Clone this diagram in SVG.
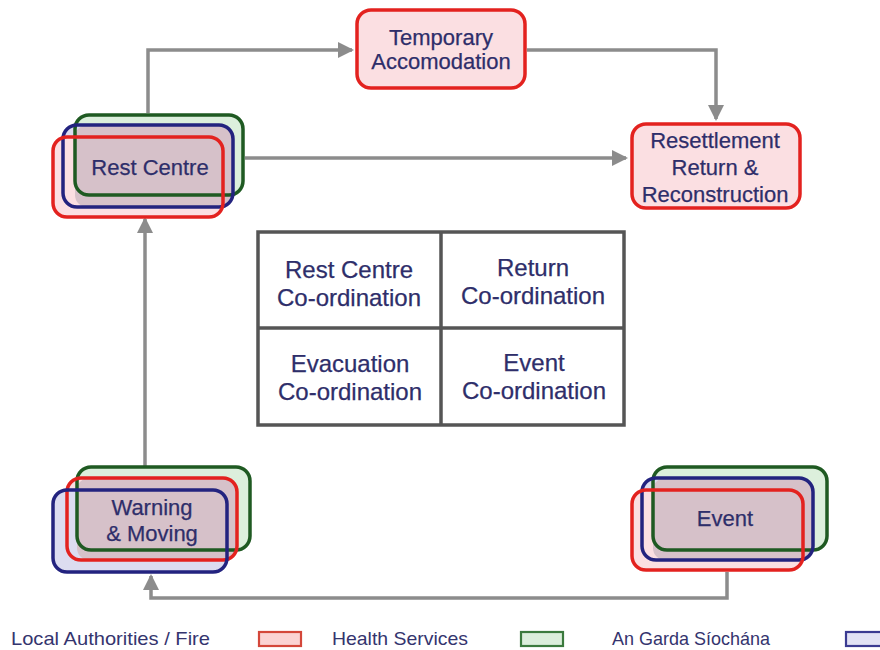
<svg xmlns="http://www.w3.org/2000/svg" width="880" height="650" viewBox="0 0 880 650">
<defs>
<style>
.t{font-family:"Liberation Sans",Arial,sans-serif;font-size:22px;fill:#2e2e6a;text-anchor:middle;stroke:#2e2e6a;stroke-width:0.25}
.gt{font-size:24px}
.lg{font-family:"Liberation Sans",Arial,sans-serif;font-size:19px;fill:#34346e}
.con{fill:none;stroke:#8c8c8c;stroke-width:3.5}
.r{stroke:#e3221f;stroke-width:3.5}
.b{stroke:#23237f;stroke-width:3.5}
.g{stroke:#1f5a22;stroke-width:3.5}
.rf{fill:#fbdfe2}
.bf{fill:#dcdcf0}
.gf{fill:#dcefdc}
.mv{fill:#d6c1c9}
.ns{fill:none}
.grid{fill:#fff;stroke:#555;stroke-width:3.5}
</style>
<marker id="ah" markerUnits="userSpaceOnUse" markerWidth="16" markerHeight="16" refX="14" refY="8" orient="auto">
<path d="M0,0 L16,8 L0,16 z" fill="#8c8c8c"/>
</marker>
</defs>
<rect width="880" height="650" fill="#fff"/>

<g id="connectors">
<path class="con" d="M148,113 V50 H352" marker-end="url(#ah)"/>
<path class="con" d="M527,50 H716 V119" marker-end="url(#ah)"/>
<path class="con" d="M245,158 H626" marker-end="url(#ah)"/>
<path class="con" d="M145,466 V219" marker-end="url(#ah)"/>
<path class="con" d="M727,572 V598 H151 V576" marker-end="url(#ah)"/>
</g>

<g id="temporary">
<rect x="357" y="10" width="168" height="78" rx="14" class="rf r"/>
<text class="t" x="441" y="45">Temporary</text>
<text class="t" x="441" y="69">Accomodation</text>
</g>

<g id="resettlement">
<rect x="632" y="124" width="168" height="84" rx="14" class="rf r"/>
<text class="t" x="715" y="148">Resettlement</text>
<text class="t" x="715" y="175">Return &amp;</text>
<text class="t" x="715" y="202">Reconstruction</text>
</g>

<g id="rest-centre">
<rect x="75" y="115" width="168" height="80" rx="14" class="gf"/>
<rect x="63" y="125" width="170" height="82" rx="14" class="bf"/>
<rect x="53" y="137" width="170" height="80" rx="14" class="rf"/>
<rect x="75" y="125" width="158" height="82" rx="12" class="mv"/>
<rect x="75" y="115" width="168" height="80" rx="14" class="ns g"/>
<rect x="63" y="125" width="170" height="82" rx="14" class="ns b"/>
<rect x="53" y="137" width="170" height="80" rx="14" class="ns r"/>
<text class="t" x="150" y="175">Rest Centre</text>
</g>

<g id="warning">
<rect x="77" y="467" width="173" height="83" rx="14" class="gf"/>
<rect x="67" y="478" width="170" height="82" rx="14" class="rf"/>
<rect x="53" y="490" width="174" height="82" rx="14" class="bf"/>
<rect x="77" y="478" width="160" height="82" rx="12" class="mv"/>
<rect x="77" y="467" width="173" height="83" rx="14" class="ns g"/>
<rect x="67" y="478" width="170" height="82" rx="14" class="ns r"/>
<rect x="53" y="490" width="174" height="82" rx="14" class="ns b"/>
<text class="t" x="152" y="515">Warning</text>
<text class="t" x="152" y="541">&amp; Moving</text>
</g>

<g id="event">
<rect x="653" y="467" width="174" height="83" rx="14" class="gf"/>
<rect x="642" y="478" width="171" height="82" rx="14" class="bf"/>
<rect x="632" y="490" width="171" height="80" rx="14" class="rf"/>
<rect x="653" y="478" width="160" height="82" rx="12" class="mv"/>
<rect x="653" y="467" width="174" height="83" rx="14" class="ns g"/>
<rect x="642" y="478" width="171" height="82" rx="14" class="ns b"/>
<rect x="632" y="490" width="171" height="80" rx="14" class="ns r"/>
<text class="t" x="725" y="526">Event</text>
</g>

<g id="coordination-grid">
<rect x="258" y="232" width="366" height="193" class="grid"/>
<line x1="441" y1="232" x2="441" y2="425" stroke="#555" stroke-width="3.5"/>
<line x1="258" y1="328" x2="624" y2="328" stroke="#555" stroke-width="3.5"/>
<text class="t gt" x="349" y="278">Rest Centre</text>
<text class="t gt" x="349" y="306">Co-ordination</text>
<text class="t gt" x="533" y="276">Return</text>
<text class="t gt" x="533" y="304">Co-ordination</text>
<text class="t gt" x="350" y="372">Evacuation</text>
<text class="t gt" x="350" y="400">Co-ordination</text>
<text class="t gt" x="534" y="371">Event</text>
<text class="t gt" x="534" y="399">Co-ordination</text>
</g>

<g id="legend">
<text class="lg" x="11" y="645" textLength="199" lengthAdjust="spacingAndGlyphs">Local Authorities / Fire</text>
<rect x="259" y="632" width="42" height="14" fill="#fbd3d3" stroke="#d4473a" stroke-width="2.2"/>
<text class="lg" x="332" y="645" textLength="136" lengthAdjust="spacingAndGlyphs">Health Services</text>
<rect x="521" y="632" width="42" height="14" fill="#dbeedb" stroke="#3b7a3d" stroke-width="2.2"/>
<text class="lg" x="612" y="645" textLength="158" lengthAdjust="spacingAndGlyphs">An Garda Síochána</text>
<rect x="846" y="632" width="42" height="14" fill="#e2e2f5" stroke="#3b3b92" stroke-width="2.2"/>
</g>
</svg>
